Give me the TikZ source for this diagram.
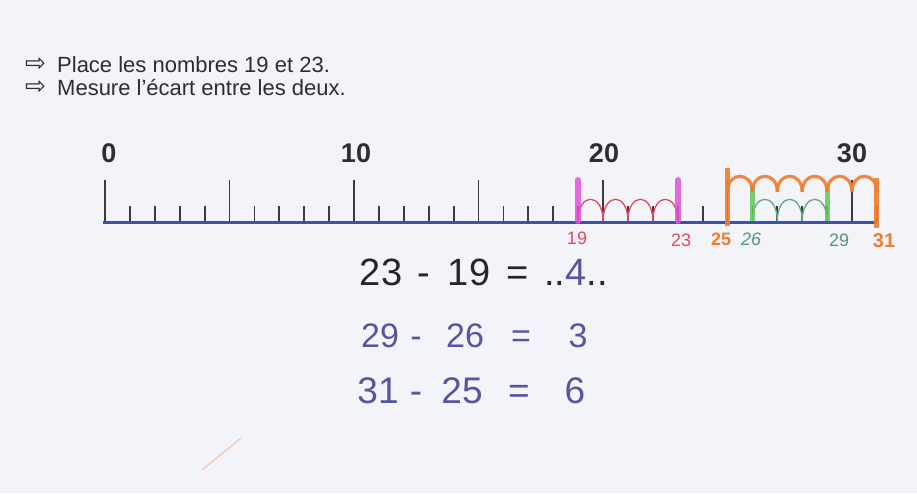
\documentclass[tikz,border=0pt]{standalone}
\usepackage{fontspec}
\setmainfont{Liberation Sans}
\newfontfamily\symfont{DejaVu Sans}
\definecolor{paper}{RGB}{243,243,250}
\definecolor{textgray}{RGB}{45,45,45}
\definecolor{tickgray}{RGB}{60,60,60}
\definecolor{axisblue}{RGB}{60,80,175}
\definecolor{mag}{RGB}{225,80,215}
\definecolor{hopred}{RGB}{225,75,90}
\definecolor{orng}{RGB}{240,125,45}
\definecolor{grnbar}{RGB}{95,200,95}
\definecolor{grnhop}{RGB}{105,165,125}
\definecolor{grnlab}{RGB}{90,150,120}
\definecolor{hand}{RGB}{85,85,160}
\tikzset{
  instr/.style={anchor=base west, text=textgray, font=\fontsize{22}{26}\selectfont, inner sep=0pt},
  bullet/.style={anchor=base west, text=textgray, font=\symfont\fontsize{25}{28}\selectfont, inner sep=0pt, text height=12pt, text depth=0pt},
  ticklab/.style={anchor=base, text=textgray, font=\bfseries\fontsize{27}{30}\selectfont, inner sep=0pt},
  longtick/.style={draw=tickgray, line width=1.8pt},
  shorttick/.style={draw=tickgray, line width=1.8pt},
  axis/.style={draw=axisblue, line width=3pt},
  magbar/.style={draw=mag, line width=6pt, line cap=round, opacity=0.85},
  redhop/.style={draw=hopred, line width=1.3pt},
  grnbarst/.style={draw=grnbar, line width=5pt, opacity=0.85},
  grnhopst/.style={draw=grnhop, line width=1.3pt},
  orbar/.style={draw=orng, line width=5pt, opacity=0.9},
  orhop/.style={draw=orng, line width=3.2pt, opacity=0.9},
  smalllab/.style={anchor=base, inner sep=0pt, font=\fontsize{18}{20}\selectfont},
  printed/.style={anchor=base, inner sep=0pt, text=black!85, font=\fontsize{38}{40}\selectfont},
  handw/.style={anchor=base, inner sep=0pt, text=hand, font=\fontsize{34}{38}\selectfont},
}
\begin{document}
\begin{tikzpicture}[x=1pt,y=-1pt]
\fill[paper] (0,0) rectangle (917,493);
\useasboundingbox (0,0) rectangle (917,493);

% instructions
\node[bullet] (b1) at (25,71) {⇨};
\node[instr] (l1) at (57,72) {Place les nombres 19 et 23.};
\node[bullet] (b2) at (25,94) {⇨};
\node[instr] (l2) at (57,95) {Mesure l'écart entre les deux.};

% number line
\foreach \n in {0,...,31}{
  \pgfmathtruncatemacro{\r}{mod(\n,5)}
  \ifnum\r=0
    \draw[longtick] ({105+24.9*\n},180) -- ({105+24.9*\n},222);
  \else
    \draw[shorttick] ({105+24.9*\n},206) -- ({105+24.9*\n},222);
  \fi
}
\draw[axis] (103,222) -- ({105+24.9*31},222);

\node[ticklab] (t0) at (109,162) {0};
\node[ticklab] (t10) at (356,162) {10};
\node[ticklab] (t20) at (604,162) {20};
\node[ticklab] (t30) at (852,162) {30};

% 19 -> 23 (red hops, magenta bars)
\foreach \n in {19,20,21,22}{
  \draw[redhop] ({105+24.9*\n},221) .. controls +(0,-29) and +(0,-29) .. ({105+24.9*(\n+1)},221);
}
\draw[magbar] ({105+24.9*19},180) -- ({105+24.9*19},221);
\draw[magbar] ({105+24.9*23},180) -- ({105+24.9*23},221);

% 26 -> 29 (green)
\foreach \n in {26,27,28}{
  \draw[grnhopst] ({105+24.9*\n},221) .. controls +(0,-29) and +(0,-29) .. ({105+24.9*(\n+1)},221);
}
\draw[grnbarst] ({105+24.9*26},186) -- ({105+24.9*26},221);
\draw[grnbarst] ({105+24.9*29},186) -- ({105+24.9*29},221);

% 25 -> 31 (orange)
\foreach \n in {25,...,30}{
  \draw[orhop] ({105+24.9*\n},192) .. controls +(0,-21) and +(0,-21) .. ({105+24.9*(\n+1)},192);
}
\draw[orbar] ({105+24.9*25},168) -- ({105+24.9*25},226);
\draw[orbar] ({105+24.9*31},178) -- ({105+24.9*31},228);

% labels under the line
\node[smalllab, text=hopred] (n19) at (577,244) {19};
\node[smalllab, text=hopred] (n23) at (681,246) {23};
\node[smalllab, text=orng, font=\bfseries\fontsize{18}{20}\selectfont] (n25) at (721,245) {25};
\node[smalllab, text=grnlab, font=\itshape\fontsize{18}{20}\selectfont] (n26) at (751,245) {26};
\node[smalllab, text=grnlab] (n29) at (839,246) {29};
\node[smalllab, text=orng, font=\bfseries\fontsize{20}{22}\selectfont] (n31) at (884,247) {31};

% printed equation
\node[printed] (e1a) at (381,285) {23};
\node[printed] (e1b) at (424,285) {-};
\node[printed] (e1c) at (469,285) {19};
\node[printed] (e1d) at (518,285) {=};
\node[printed, anchor=base west] (e1e) at (544,285) {..{\color{hand}4}..};

% handwritten lines
\node[handw] (e2a) at (380,347) {29};
\node[handw] (e2b) at (416,347) {-};
\node[handw] (e2c) at (465,347) {26};
\node[handw] (e2d) at (521,347) {=};
\node[handw] (e2e) at (578,347) {3};

\node[handw, font=\fontsize{37}{40}\selectfont] (e3a) at (378,403) {31};
\node[handw, font=\fontsize{37}{40}\selectfont] (e3b) at (416,403) {-};
\node[handw, font=\fontsize{37}{40}\selectfont] (e3c) at (462,403) {25};
\node[handw, font=\fontsize{37}{40}\selectfont] (e3d) at (519,403) {=};
\node[handw, font=\fontsize{37}{40}\selectfont] (e3e) at (575,403) {6};

% stray pencil stroke
\draw[orng!60, line width=1.2pt, opacity=0.7, line cap=round] (202,470) -- (241,438);
\end{tikzpicture}
\end{document}
